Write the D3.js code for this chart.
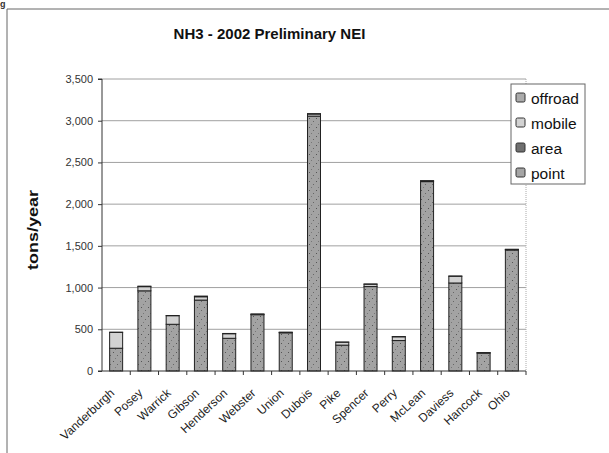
<!DOCTYPE html>
<html>
<head>
<meta charset="utf-8">
<script src="https://cdn.jsdelivr.net/npm/d3@7"></script>
<style>
  html, body { margin: 0; padding: 0; background: #fff; }
  svg { display: block; font-family: "Liberation Sans", Arial, sans-serif; }
</style>
</head>
<body>
<svg id="chart" width="609" height="453"></svg>
<script>
// ---- data ----
const categories = ["Vanderburgh","Posey","Warrick","Gibson","Henderson","Webster","Union","Dubois","Pike","Spencer","Perry","McLean","Daviess","Hancock","Ohio"];
const seriesNames = ["point","area","mobile","offroad"]; // stack order bottom -> top
const pointValues   = [0, 0, 0, 0, 0, 0, 0, 0, 0, 0, 0, 0, 0, 0, 0];
const areaValues    = [273, 961, 560, 850, 392, 675, 458, 3055, 310, 1012, 365, 2270, 1055, 215, 1450];
const mobileValues  = [190, 50, 103, 40, 55, 6, 5, 25, 35, 28, 45, 9, 80, 4, 7];
const offroadValues = [2, 6, 2, 8, 3, 2, 2, 5, 2, 3, 3, 2, 4, 1, 2];
const yTicks = [0, 500, 1000, 1500, 2000, 2500, 3000, 3500];
const legendOrder = ["offroad","mobile","area","point"];
const titleText = "NH3 - 2002 Preliminary NEI";
const yLabel = "tons/year";

// ---- build table ----
const rows = categories.map((c, i) => ({
  category: c,
  point: pointValues[i],
  area: areaValues[i],
  mobile: mobileValues[i],
  offroad: offroadValues[i]
}));

const svg = d3.select("#chart");
const defs = svg.append("defs");

// speckled pattern for the "area" series
const pat = defs.append("pattern")
  .attr("id", "areaPat").attr("patternUnits", "userSpaceOnUse")
  .attr("width", 7).attr("height", 9);
pat.append("rect").attr("width", 7).attr("height", 9).attr("fill", "#a3a3a3");
pat.append("rect").attr("x", 1).attr("y", 1).attr("width", 1).attr("height", 1).attr("fill", "#555");
pat.append("rect").attr("x", 5).attr("y", 4).attr("width", 1).attr("height", 1).attr("fill", "#666");
pat.append("rect").attr("x", 3).attr("y", 7).attr("width", 1).attr("height", 1).attr("fill", "#777");

const fills = {
  point: "#a5a5a5",
  area: "url(#areaPat)",
  mobile: "#d2d2d2",
  offroad: "#ababab"
};

// ---- frame ----
svg.append("path")
  .attr("d", "M7,460 L7,9 L612,9")
  .attr("fill", "none").attr("stroke", "#666").attr("stroke-width", 1);

// stray glyph at the top-left corner of the scan
svg.append("text").attr("x", 0).attr("y", 7)
  .attr("font-size", 9).attr("font-weight", "bold").attr("fill", "#333").text("g");

// ---- scales ----
const plotL = 102, plotR = 526, plotT = 79, plotB = 371;
const x = d3.scaleBand().domain(categories).range([plotL, plotR])
  .paddingInner(0.54).paddingOuter(0.27);
const y = d3.scaleLinear().domain([0, 3500]).range([plotB, plotT]);

// ---- gridlines ----
svg.append("g").selectAll("line").data(yTicks.filter(d => d > 0)).join("line")
  .attr("x1", plotL).attr("x2", plotR)
  .attr("y1", d => y(d)).attr("y2", d => y(d))
  .attr("stroke", "#a0a0a0").attr("stroke-width", 1);

// plot-area right border (dotted)
svg.append("line").attr("x1", plotR).attr("x2", plotR).attr("y1", plotT).attr("y2", plotB)
  .attr("stroke", "#aaa").attr("stroke-dasharray", "1,1");

// ---- bars ----
const stack = d3.stack().keys(seriesNames);
const stacked = stack(rows);
svg.append("g").selectAll("g").data(stacked).join("g")
  .attr("fill", d => fills[d.key])
  .selectAll("rect").data(d => d.filter(s => s[1] - s[0] > 0)).join("rect")
  .attr("x", d => x(d.data.category))
  .attr("width", x.bandwidth())
  .attr("y", d => y(d[1]))
  .attr("height", d => y(d[0]) - y(d[1]))
  .attr("stroke", "#222").attr("stroke-width", 1);

// ---- y axis ----
const yAxis = d3.axisLeft(y).tickValues(yTicks).tickFormat(d3.format(",")).tickSize(4).tickPadding(5);
const gy = svg.append("g").attr("transform", `translate(${plotL},0)`).call(yAxis);
gy.select(".domain").attr("stroke", "#333").attr("d", `M-4,${plotT}H0V${plotB}H-4`);
gy.selectAll(".tick line").attr("stroke", "#333");
gy.selectAll(".tick text").attr("font-size", 11).attr("fill", "#333")
  .attr("font-family", "'Liberation Sans', Arial, sans-serif");

// ---- x axis ----
svg.append("line").attr("x1", plotL).attr("x2", plotR).attr("y1", plotB).attr("y2", plotB)
  .attr("stroke", "#333");
const step = x.step();
svg.append("g").selectAll("line").data(d3.range(1, categories.length + 1)).join("line")
  .attr("x1", i => plotL + i * step)
  .attr("x2", i => plotL + i * step)
  .attr("y1", plotB).attr("y2", plotB + 4)
  .attr("stroke", "#333");

svg.append("g").selectAll("text").data(categories).join("text")
  .attr("transform", d => `translate(${x(d) + x.bandwidth() / 2 - 1},${plotB + 23}) rotate(-43)`)
  .attr("text-anchor", "end")
  .attr("font-size", 12).attr("fill", "#222")
  .text(d => d);

// ---- title ----
svg.append("text").attr("x", 269.5).attr("y", 39)
  .attr("text-anchor", "middle").attr("font-size", 15).attr("font-weight", "bold")
  .attr("fill", "#111").text(titleText);

// ---- y label ----
svg.append("text")
  .attr("transform", "translate(38,230) rotate(-90)")
  .attr("text-anchor", "middle").attr("font-size", 15).attr("font-weight", "bold")
  .attr("textLength", 80).attr("lengthAdjust", "spacingAndGlyphs")
  .attr("fill", "#111").text(yLabel);

// ---- legend ----
const lg = svg.append("g");
lg.append("rect").attr("x", 511).attr("y", 84).attr("width", 74).attr("height", 100)
  .attr("fill", "#fff").attr("stroke", "#666").attr("stroke-width", 1);
const items = lg.selectAll("g.item").data(legendOrder).join("g").attr("class", "item")
  .attr("transform", (d, i) => `translate(516,${98 + i * 25})`);
items.append("rect").attr("x", 0).attr("y", -5).attr("width", 9).attr("height", 9)
  .attr("rx", 1.5).attr("fill", d => d === "area" ? "#6f6f6f" : fills[d]).attr("stroke", "#333");
items.append("text").attr("x", 15).attr("y", 5.5).attr("font-size", 15.5).attr("fill", "#111")
  .text(d => d);
</script>
</body>
</html>
